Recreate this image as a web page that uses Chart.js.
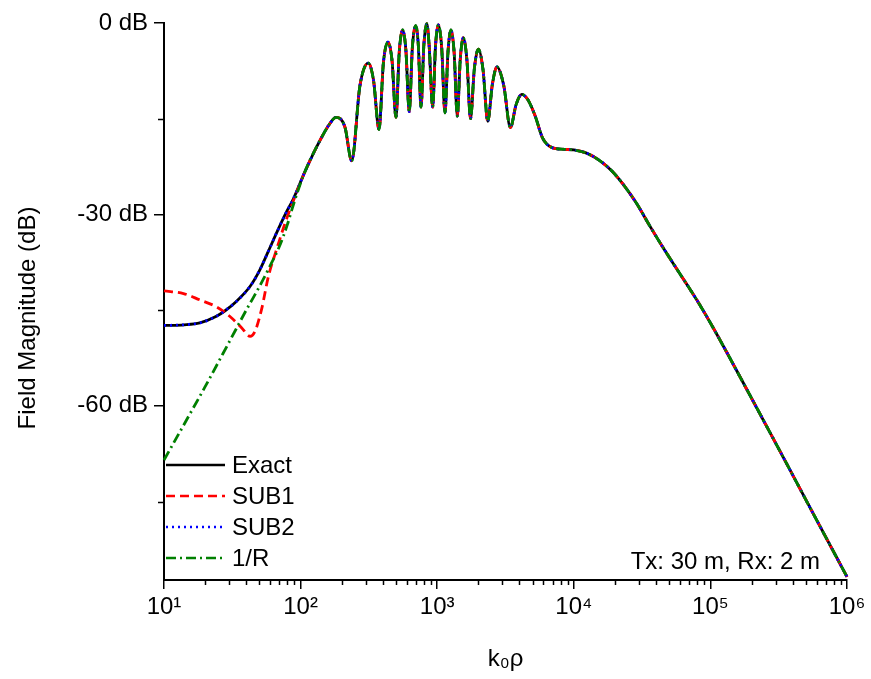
<!DOCTYPE html>
<html>
<head>
<meta charset="utf-8">
<script src="https://cdn.jsdelivr.net/npm/chart.js@4.4.1/dist/chart.umd.min.js"></script>
<style>
  html, body { margin: 0; padding: 0; background: #fff; }
  #wrap { width: 871px; height: 679px; }
</style>
</head>
<body>
<div id="wrap"><canvas id="fieldChart" width="871" height="679"></canvas></div>
<script>
// values: x = k0*rho (log), y = field magnitude in dB

// near range, where the curves differ
const kExactHead = [10, 14, 18.3, 24, 28, 34, 42.6, 50, 58, 68, 78, 88.4];
const dbExactHead = [-47.4, -47.3, -47.0, -46.0, -45.1, -43.6, -41.3, -38.8, -35.8, -32.5, -29.8, -27.6];

const kSub1Head = [10, 13.9, 18.3, 24.3, 30.4, 37.1, 42.7, 46.4, 51.9, 58, 66.9, 76.9, 88.4];
const dbSub1Head = [-42.0, -42.4, -43.4, -44.5, -46.0, -47.8, -49.1, -48.3, -44.8, -39.8, -35.4, -31.4, -27.9];

const kInvRHead = [10, 15, 20, 30, 40, 50, 60, 70, 80, 90];
const dbInvRHead = [-68.5, -61.8, -57.0, -50.0, -45.0, -41.3, -38.0, -35.0, -31.6, -28.0];

// common part, all four curves on top of each other
const kTail = [107.6, 138.7, 164, 181.5, 211, 236.7,
  272, 313, 342, 375, 404, 436, 467, 499, 528, 559, 590, 624, 659, 697, 728, 761,
  799, 839, 872, 927, 972, 1019, 1078, 1140, 1199, 1260, 1330, 1403, 1476, 1552,
  1650, 1753, 1870, 2000, 2165, 2345, 2535, 2740, 3070, 3435, 3780, 4155,
  4600, 5200, 5900, 6900, 8500, 10000, 12400, 15560, 19000, 23000, 28850, 36000,
  45000, 59800, 80000, 105000, 184400, 323000, 566000, 1000000];
const dbTail = [-23.3, -18.4, -15.75, -14.8, -16.3, -21.6,
  -9.8, -6.3, -9.0, -16.7, -6.2, -3.0, -5.9, -14.8, -4.4, -1.1, -4.3, -13.9, -3.6, -0.4, -3.6, -13.2,
  -3.4, -0.1, -3.4, -13.2, -3.6, -0.3, -3.8, -14.1, -4.6, -1.1, -4.6, -14.6, -5.6, -2.3,
  -5.8, -15.0, -7.2, -4.1, -7.3, -15.4, -9.6, -6.9, -9.8, -16.4, -12.8, -11.2,
  -12.0, -14.5, -18.0, -19.5, -19.8, -19.9, -20.4, -21.6, -23.2, -25.3, -28.3, -31.8,
  -35.2, -39.3, -43.5, -47.8, -57.4, -67.1, -76.9, -86.8];

const xDecades = [1e1, 1e2, 1e3, 1e4, 1e5, 1e6];
const yMajor = [0, -30, -60];
const yMinor = [-15, -45, -75];
const supDigits = ['⁰', '¹', '²', '³', '⁴', '⁵', '⁶'];

function pts(ks, ds) {
    return ks.map((k, i) => ({ x: k, y: ds[i] }));
}

const FONT = 'Liberation Sans, Arial, sans-serif';

// minor ticks, y title, inner legend and the Tx/Rx note
const extrasPlugin = {
    id: 'extras',
    afterDraw(chart) {
        const ctx = chart.ctx;
        const xs = chart.scales.x, ys = chart.scales.y;
        const area = chart.chartArea;
        ctx.save();
        ctx.strokeStyle = '#000';
        ctx.lineWidth = 1.5;
        ctx.beginPath();
        for (let d = 1; d < 6; d++) {
            for (let m = 2; m <= 9; m++) {
                const px = Math.round(xs.getPixelForValue(m * Math.pow(10, d))) + 0.5;
                ctx.moveTo(px, area.bottom);
                ctx.lineTo(px, area.bottom + 5);
            }
        }
        yMinor.forEach(v => {
            const py = Math.round(ys.getPixelForValue(v)) + 0.5;
            ctx.moveTo(area.left - 6, py);
            ctx.lineTo(area.left, py);
        });
        ctx.stroke();

        ctx.fillStyle = '#000';
        ctx.font = '24px ' + FONT;

        // y axis title
        ctx.save();
        ctx.translate(28, 318);
        ctx.rotate(-Math.PI / 2);
        ctx.textAlign = 'center';
        ctx.textBaseline = 'middle';
        ctx.fillText('Field Magnitude (dB)', 0, 0);
        ctx.restore();

        // legend
        const rowY = [465, 496, 527, 558];
        ctx.textBaseline = 'middle';
        ctx.textAlign = 'left';
        chart.data.datasets.forEach((ds, i) => {
            ctx.beginPath();
            ctx.strokeStyle = ds.borderColor;
            ctx.lineWidth = 2.5;
            ctx.setLineDash(ds.borderDash || []);
            ctx.moveTo(area.left + 2, rowY[i]);
            ctx.lineTo(area.left + 61, rowY[i]);
            ctx.stroke();
            ctx.setLineDash([]);
            ctx.fillText(ds.label, area.left + 68, rowY[i] + 1);
        });

        ctx.textAlign = 'right';
        ctx.textBaseline = 'alphabetic';
        ctx.fillText('Tx: 30 m, Rx: 2 m', 820, 569);
        ctx.restore();
    }
};

new Chart(document.getElementById('fieldChart'), {
    type: 'line',
    data: {
        datasets: [
            {
                label: 'Exact',
                data: pts(kExactHead.concat(kTail), dbExactHead.concat(dbTail)),
                borderColor: '#000000',
                borderWidth: 2.8,
                order: 4
            },
            {
                label: 'SUB1',
                data: pts(kSub1Head.concat(kTail), dbSub1Head.concat(dbTail)),
                borderColor: '#ff0000',
                borderWidth: 2.8,
                borderDash: [9, 5],
                order: 3
            },
            {
                label: 'SUB2',
                data: pts(kExactHead.concat(kTail), dbExactHead.concat(dbTail)),
                borderColor: '#0000ff',
                borderWidth: 2.8,
                borderDash: [2, 4],
                order: 2
            },
            {
                label: '1/R',
                data: pts(kInvRHead.concat(kTail), dbInvRHead.concat(dbTail)),
                borderColor: '#008000',
                borderWidth: 2.8,
                borderDash: [10, 4, 2, 4],
                order: 1
            }
        ]
    },
    options: {
        responsive: false,
        animation: false,
        devicePixelRatio: 1,
        layout: { padding: { left: 0, right: 24, top: 23, bottom: 0 } },
        elements: {
            point: { radius: 0 },
            line: { cubicInterpolationMode: 'monotone', fill: false }
        },
        datasets: { line: { clip: 6 } },
        plugins: {
            legend: { display: false },
            tooltip: { enabled: false }
        },
        scales: {
            x: {
                type: 'logarithmic',
                min: 10,
                max: 1e6,
                afterBuildTicks: (scale) => {
                    scale.ticks = xDecades.map(v => ({ value: v }));
                },
                afterFit: (scale) => { scale.height = 99; },
                border: { display: true, color: '#000', width: 2 },
                grid: { drawOnChartArea: false, drawTicks: true, tickLength: 9, color: '#000', lineWidth: 1.5 },
                ticks: {
                    autoSkip: false,
                    maxRotation: 0,
                    padding: 4,
                    color: '#000',
                    font: { family: FONT, size: 24 },
                    callback: (v) => '10' + supDigits[Math.round(Math.log10(v))]
                },
                title: {
                    display: true,
                    text: 'k₀ρ',
                    color: '#000',
                    font: { family: FONT, size: 24 },
                    padding: { top: 0, bottom: 5 }
                }
            },
            y: {
                type: 'linear',
                min: -87.3,
                max: 0,
                afterBuildTicks: (scale) => {
                    scale.ticks = yMajor.map(v => ({ value: v }));
                },
                afterFit: (scale) => { scale.width = 164; },
                border: { display: true, color: '#000', width: 2 },
                grid: { drawOnChartArea: false, drawTicks: true, tickLength: 10, color: '#000', lineWidth: 1.5 },
                ticks: {
                    padding: 6,
                    color: '#000',
                    font: { family: FONT, size: 24 },
                    callback: (v) => v + ' dB'
                },
                title: { display: false }
            }
        }
    },
    plugins: [extrasPlugin]
});
</script>
</body>
</html>
